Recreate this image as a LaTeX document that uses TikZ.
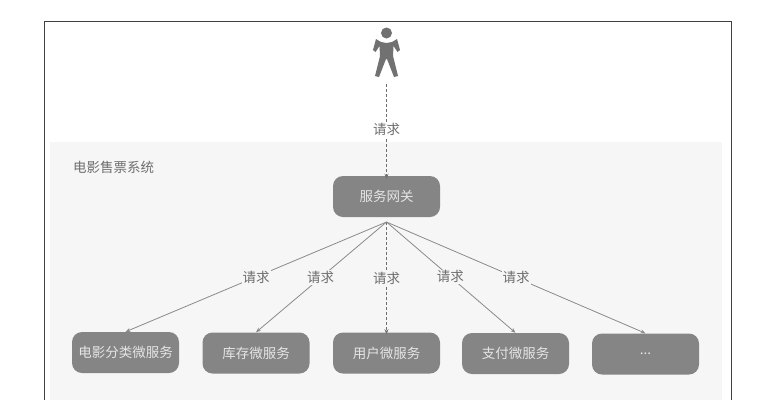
\documentclass[tikz,border=0pt]{standalone}
\usepackage{fontspec}
\setmainfont{Noto Sans CJK SC}
\usetikzlibrary{arrows.meta}
\definecolor{boxgray}{HTML}{858585}
\definecolor{txtgray}{HTML}{6E6E6E}
\definecolor{linegray}{HTML}{8A8A8A}
\definecolor{pale}{HTML}{F6F6F6}
\tikzset{
  svc/.style={draw=none,fill=boxgray,rounded corners=10pt,minimum width=107pt,minimum height=41pt,inner sep=0pt,text=white!90!black,font=\fontsize{13.5pt}{15pt}\selectfont},
  lbl/.style={fill=pale,inner sep=1pt,text=txtgray,font=\fontsize{13.5pt}{15pt}\selectfont},
  conn/.style={draw=linegray,line width=0.8pt,-{Stealth[length=5pt,width=4pt]}},
  dashconn/.style={conn,densely dashed,draw=txtgray}
}
\begin{document}
\begin{tikzpicture}[x=1pt,y=-1pt]
\useasboundingbox (0,0) rectangle (784,400);
\fill[white] (0,0) rectangle (784,400);
\fill[pale] (50,142) rectangle (722,400);
\draw[draw=black!75,line width=0.9pt] (44,400) -- (44,21) -- (731,21) -- (731,400);
% person
\fill[boxgray!85!black] (386.5,33) circle (5.5);
\fill[boxgray!85!black] (376,39) -- (381,42) -- (386.5,43) -- (392,42) -- (397,39) -- (400,50) -- (397.5,52) -- (393.5,46) -- (393,56) -- (398,76) -- (394,77) -- (387,59) -- (386,59) -- (379,77) -- (375,76) -- (380,56) -- (379.5,46) -- (375.5,52) -- (373,50) -- cycle;
\coordinate (person) at (386.5,84);
\coordinate (hub) at (386.5,222);
\node[svc] (gw) at (386.5,196.5) {服务网关};
\node[svc] (s1) at (125.5,352.5) {电影分类微服务};
\node[svc] (s2) at (256,353) {库存微服务};
\node[svc] (s3) at (386.5,353) {用户微服务};
\node[svc] (s4) at (515.5,353.5) {支付微服务};
\node[svc] (s5) at (645.5,354) {...};
\node[anchor=west,inner sep=0pt,text=txtgray,font=\fontsize{13.5pt}{15pt}\selectfont] (title) at (73,167) {电影售票系统};
\draw[dashconn] (person) -- ([yshift=-3pt]gw.north) node[lbl,pos=0.48,fill=white] (r0) {请求};
\draw[conn] (hub) -- (s1.north) node[lbl,pos=0.5] (r1) {请求};
\draw[conn] (hub) -- (s2.north) node[lbl,pos=0.505] (r2) {请求};
\draw[dashconn] (hub) -- ([yshift=-2pt]s3.north) node[lbl,pos=0.5] (r3) {请求};
\draw[conn] (hub) -- (s4.north) node[lbl,pos=0.495] (r4) {请求};
\draw[conn] (hub) -- (s5.north) node[lbl,pos=0.5] (r5) {请求};
\end{tikzpicture}
\end{document}
